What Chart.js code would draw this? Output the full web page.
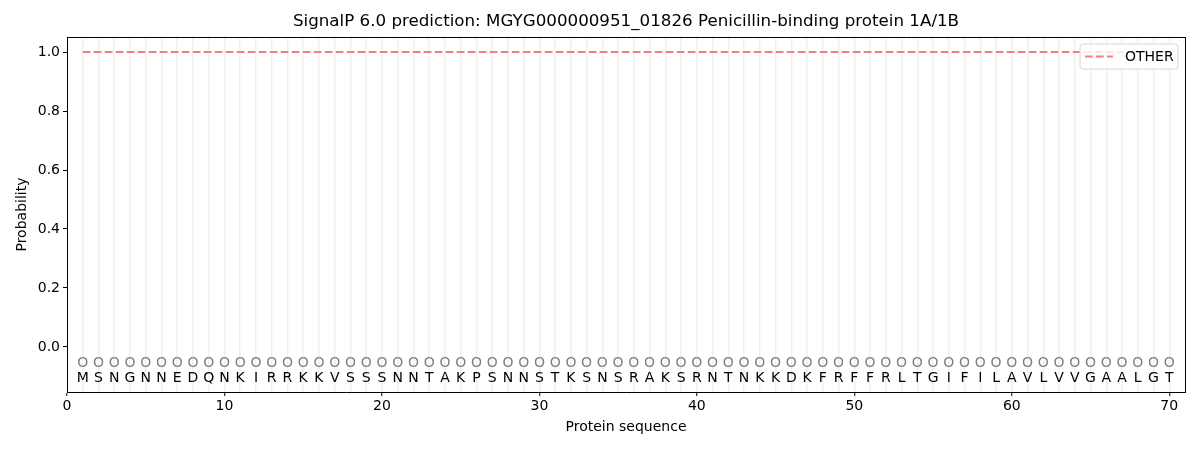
<!DOCTYPE html>
<html>
<head>
<meta charset="utf-8">
<script src="https://cdn.jsdelivr.net/npm/chart.js@4.4.1/dist/chart.umd.min.js"></script>
<style>
  html, body { margin: 0; padding: 0; background: #fff; }
  #wrap { width: 1200px; height: 450px; }
</style>
</head>
<body>
<div id="wrap"><canvas id="myChart"></canvas></div>
<script>
const residues = [
  "M","S","N","G","N","N","E","D","Q","N",
  "K","I","R","R","K","K","V","S","S","S",
  "N","N","T","A","K","P","S","N","N","S",
  "T","K","S","N","S","R","A","K","S","R",
  "N","T","N","K","K","D","K","F","R","F",
  "F","R","L","T","G","I","F","I","L","A",
  "V","L","V","V","G","A","A","L","G","T",
];
// predicted region per residue (all "O" = other)
const regions = [
  "O","O","O","O","O","O","O","O","O","O",
  "O","O","O","O","O","O","O","O","O","O",
  "O","O","O","O","O","O","O","O","O","O",
  "O","O","O","O","O","O","O","O","O","O",
  "O","O","O","O","O","O","O","O","O","O",
  "O","O","O","O","O","O","O","O","O","O",
  "O","O","O","O","O","O","O","O","O","O",
];
const otherProb = [
  1, 1, 1, 1, 1, 1, 1, 1, 1, 1,
  1, 1, 1, 1, 1, 1, 1, 1, 1, 1,
  1, 1, 1, 1, 1, 1, 1, 1, 1, 1,
  1, 1, 1, 1, 1, 1, 1, 1, 1, 1,
  1, 1, 1, 1, 1, 1, 1, 1, 1, 1,
  1, 1, 1, 1, 1, 1, 1, 1, 1, 1,
  1, 1, 1, 1, 1, 1, 1, 1, 1, 1,
];
const xTicks = [0, 10, 20, 30, 40, 50, 60, 70];
const yTicks = [0, 0.2, 0.4, 0.6, 0.8, 1.0];

const FONT = "'DejaVu Sans', sans-serif";
const lineColor = "rgb(240, 128, 128)";

// letters and region marks under the curve
const seqPlugin = {
  id: "seqLabels",
  afterDatasetsDraw(chart) {
    const { ctx, scales } = chart;
    ctx.save();
    ctx.font = "14px " + FONT;
    ctx.textAlign = "center";
    ctx.textBaseline = "middle";
    residues.forEach((aa, i) => {
      const px = scales.x.getPixelForValue(i + 1);
      ctx.fillStyle = "#808080";
      ctx.fillText(regions[i], px, scales.y.getPixelForValue(-0.057));
      ctx.fillStyle = "#000";
      ctx.fillText(aa, px, scales.y.getPixelForValue(-0.106));
    });
    ctx.restore();
  },
  afterDraw(chart) {
    // legend box inside plot, upper right
    const { ctx, chartArea } = chart;
    const w = 98, h = 25;
    const x0 = chartArea.right - 7 - w, y0 = chartArea.top + 7;
    ctx.save();
    ctx.beginPath();
    ctx.roundRect(x0, y0, w, h, 3);
    ctx.fillStyle = "rgba(255,255,255,0.8)";
    ctx.fill();
    ctx.strokeStyle = "#d6d6d6";
    ctx.lineWidth = 1;
    ctx.stroke();
    ctx.beginPath();
    ctx.setLineDash([7.7, 3.3]);
    ctx.strokeStyle = lineColor;
    ctx.lineWidth = 2;
    ctx.moveTo(x0 + 5, y0 + h / 2);
    ctx.lineTo(x0 + 33, y0 + h / 2);
    ctx.stroke();
    ctx.setLineDash([]);
    ctx.fillStyle = "#000";
    ctx.font = "14px " + FONT;
    ctx.textBaseline = "middle";
    ctx.fillText("OTHER", x0 + 45, y0 + h / 2 + 0.5);
    ctx.restore();
  },
};

const ctx = document.getElementById("myChart");

new Chart(ctx, {
  type: "line",
  data: {
    datasets: [
      {
        label: "OTHER",
        data: otherProb.map((p, i) => ({ x: i + 1, y: p })),
        borderColor: lineColor,
        borderWidth: 2,
        borderDash: [7.7, 3.3],
        pointRadius: 0,
        tension: 0,
      },
    ],
  },
  options: {
    responsive: true,
    maintainAspectRatio: false,
    animation: false,
    layout: { padding: { left: 0, right: 15, top: 0, bottom: 0 } },
    scales: {
      x: {
        type: "linear",
        min: 0,
        max: 71,
        afterBuildTicks: (scale) => {
          const t = [];
          for (let v = 0; v <= 71; v++) t.push({ value: v });
          scale.ticks = t;
        },
        afterFit: (scale) => { scale.height = 58; },
        ticks: {
          autoSkip: false,
          maxRotation: 0,
          padding: 2,
          color: "#000",
          font: { family: FONT, size: 14 },
          callback: (v) => (xTicks.includes(v) ? String(v) : ""),
        },
        grid: {
          color: (c) => (c.tick && c.tick.value >= 1 && c.tick.value <= 70 ? "rgba(0,0,0,0.06)" : "rgba(0,0,0,0)"),
          lineWidth: 1.5,
          tickColor: (c) => (c.tick && xTicks.includes(c.tick.value) ? "#000" : "rgba(0,0,0,0)"),
          tickWidth: 1,
          tickLength: 4,
        },
        border: { display: true, color: "#000", width: 1 },
        title: {
          display: true,
          text: "Protein sequence",
          color: "#000",
          font: { family: FONT, size: 14 },
          padding: { top: 0, bottom: 14 },
        },
      },
      xTop: {
        type: "linear",
        position: "top",
        min: 0,
        max: 71,
        afterFit: (scale) => { scale.height = 0; },
        ticks: { display: false },
        grid: { display: false },
        border: { display: true, color: "#000", width: 1 },
      },
      y: {
        min: -0.153,
        max: 1.051,
        afterBuildTicks: (scale) => {
          scale.ticks = yTicks.map((v) => ({ value: v }));
        },
        afterFit: (scale) => { scale.width = 67; },
        ticks: {
          padding: 3,
          color: "#000",
          font: { family: FONT, size: 14 },
          callback: (v) => Number(v).toFixed(1),
        },
        grid: {
          drawOnChartArea: false,
          tickColor: "#000",
          tickLength: 4,
        },
        border: { display: true, color: "#000", width: 1 },
        title: {
          display: true,
          text: "Probability",
          color: "#000",
          font: { family: FONT, size: 14 },
          padding: { top: 14, bottom: 0 },
        },
      },
      yRight: {
        position: "right",
        display: true,
        min: 0,
        max: 1,
        afterFit: (scale) => { scale.width = 0; },
        ticks: { display: false },
        grid: { display: false },
        border: { display: true, color: "#000", width: 1 },
      },
    },
    plugins: {
      legend: { display: false },
      tooltip: { enabled: false },
      title: {
        display: true,
        fullSize: false,
        text: "SignalP 6.0 prediction: MGYG000000951_01826 Penicillin-binding protein 1A/1B",
        color: "#000",
        font: { family: FONT, size: 16.7, weight: "normal" },
        padding: { top: 12, bottom: 5 },
      },
    },
  },
  plugins: [seqPlugin],
});
</script>
</body>
</html>
